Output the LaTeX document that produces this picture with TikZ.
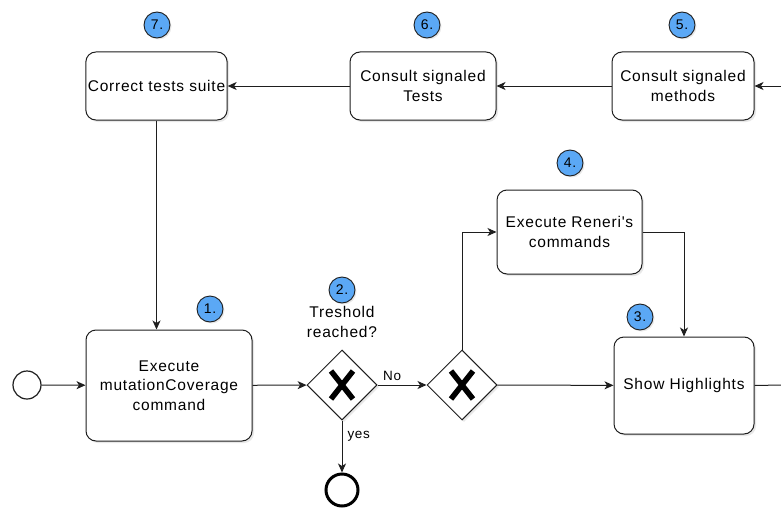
\documentclass[tikz,border=0pt]{standalone}
\usepackage{fontspec}
\setmainfont{Liberation Sans}[LetterSpace=5, Ligatures=TeXOff]
\usetikzlibrary{arrows.meta,shapes.geometric,shadows}

\definecolor{badgeblue}{RGB}{91,168,245}
\definecolor{linegray}{RGB}{30,30,30}

\tikzset{
  task/.style={draw=linegray, line width=1pt, rounded corners=10pt, fill=white,
    align=center, inner sep=2pt, font=\fontsize{15.5}{19.5}\selectfont,
    drop shadow={opacity=0.18, shadow xshift=2pt, shadow yshift=-2pt}},
  gateway/.style={diamond, draw=linegray, line width=1pt, fill=white, inner sep=0pt,
    minimum width=70pt, minimum height=70pt,
    drop shadow={opacity=0.18, shadow xshift=2pt, shadow yshift=-2pt}},
  xmark/.style={line width=5.5pt, black},
  badge/.style={circle, draw=linegray, line width=0.9pt, fill=badgeblue, inner sep=0pt,
    minimum size=26pt, font=\fontsize{14}{16}\selectfont,
    drop shadow={opacity=0.18, shadow xshift=1.5pt, shadow yshift=-1.5pt}},
  flow/.style={draw=linegray, line width=1pt, -{Stealth[length=9pt, width=8pt, inset=2.5pt]}},
  plain/.style={draw=linegray, line width=1pt},
  edgelabel/.style={fill=white, inner sep=1pt, font=\fontsize{13.5}{15}\selectfont},
}

\begin{document}
\begin{tikzpicture}[x=1pt, y=-1pt]
\useasboundingbox (0,0) rectangle (781,511);

% events
\node[circle, draw=linegray, line width=1.2pt, fill=white, minimum size=28pt, inner sep=0pt] (start) at (27,385) {};
\node[circle, draw=black, line width=3pt, fill=white, minimum size=32pt, inner sep=0pt] (end) at (342,490) {};

% tasks
\node[task, minimum width=166pt, minimum height=111pt] (t1) at (169,385.5) {Execute\\mutationCoverage\\command};
\node[task, minimum width=140pt, minimum height=97pt] (t3) at (684,385.5) {Show Highlights};
\node[task, minimum width=145pt, minimum height=84pt] (t4) at (569.5,232) {Execute Reneri's\\commands};
\node[task, minimum width=142pt, minimum height=68pt] (t5) at (683,86) {Consult signaled\\methods};
\node[task, minimum width=146pt, minimum height=68pt] (t6) at (423,86) {Consult signaled\\Tests};
\node[task, minimum width=141pt, minimum height=68pt] (t7) at (156.5,86) {Correct tests suite};

% exclusive gateways
\node[gateway] (g1) at (342,385) {};
\node[gateway] (g2) at (462,385) {};
\foreach \g in {g1,g2} {
  \draw[xmark] ([shift={(-11,-14)}]\g.center) -- ([shift={(11,14)}]\g.center);
  \draw[xmark] ([shift={(11,-14)}]\g.center) -- ([shift={(-11,14)}]\g.center);
}

\node[align=center, font=\fontsize{15.5}{19.5}\selectfont] (q) at (342,322) {Treshold\\reached?};

% loose ends at the right border
\coordinate (outR) at (781,385);
\coordinate (inR) at (781,86);

% connectors
\draw[flow] (start) -- (t1);
\draw[flow] (t1) -- (g1);
\draw[flow] (g1) -- node[edgelabel, pos=0.3, above=3pt] {No} (g2);
\draw[flow] (g1) -- node[edgelabel, pos=0.3, right=4pt] {yes} (end);
\draw[flow] (g2.north) |- (t4.west);
\draw[flow] (t4.east) -| (t3.north);
\draw[flow] (g2) -- (t3);
\draw[plain] (t3.east) -- (outR);
\draw[flow] (inR) -- (t5.east);
\draw[flow] (t5) -- (t6);
\draw[flow] (t6) -- (t7);
\draw[flow] (t7.south) -- (t7.south |- t1.north);

% step badges
\node[badge] (b1) at (210,309) {1.};
\node[badge] (b2) at (342,290) {2.};
\node[badge] (b3) at (640,317) {3.};
\node[badge] (b4) at (570,163) {4.};
\node[badge] (b5) at (682,25) {5.};
\node[badge] (b6) at (427,25) {6.};
\node[badge] (b7) at (157,25) {7.};
\end{tikzpicture}
\end{document}
